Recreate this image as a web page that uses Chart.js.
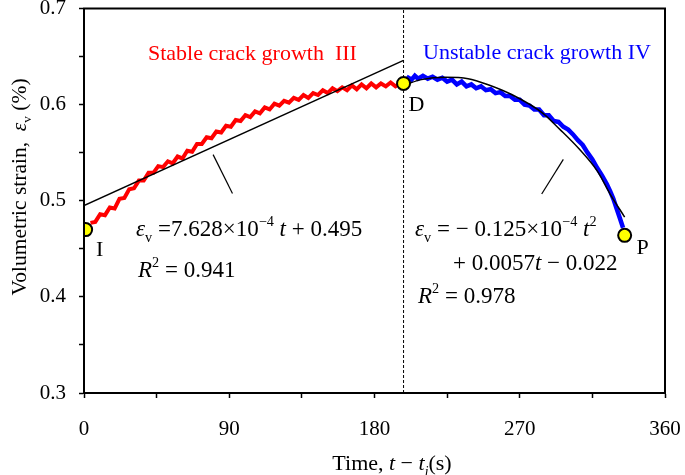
<!DOCTYPE html>
<html>
<head>
<meta charset="utf-8">
<script src="https://cdn.jsdelivr.net/npm/chart.js@4.4.1/dist/chart.umd.min.js"></script>
<style>
  html, body { margin: 0; padding: 0; background: #fff; }
  #wrap { width: 685px; height: 475px; }
</style>
</head>
<body>
<div id="wrap"><canvas id="chart" width="685" height="475"></canvas></div>
<script>
// Datos
const stableT = [4, 7, 10, 13, 16, 19, 22, 25, 28, 31, 34, 37, 40, 43, 46, 49, 52, 55, 58, 61, 64, 67, 70, 73, 76, 79, 82, 85, 88, 91, 94, 97, 100, 103, 106, 109, 112, 115, 118, 121, 124, 127, 130, 133, 136, 139, 142, 145, 148, 151, 154, 157, 160, 163, 166, 169, 172, 175, 178, 181, 184, 187, 190, 193, 196];
const stableStrain = [0.477, 0.478, 0.486, 0.485, 0.493, 0.492, 0.502, 0.503, 0.512, 0.513, 0.521, 0.521, 0.529, 0.529, 0.536, 0.535, 0.541, 0.539, 0.546, 0.544, 0.552, 0.551, 0.559, 0.559, 0.566, 0.565, 0.572, 0.571, 0.578, 0.577, 0.584, 0.583, 0.589, 0.587, 0.593, 0.591, 0.597, 0.595, 0.601, 0.599, 0.604, 0.602, 0.607, 0.605, 0.610, 0.607, 0.612, 0.610, 0.615, 0.612, 0.617, 0.614, 0.618, 0.615, 0.620, 0.616, 0.621, 0.617, 0.622, 0.618, 0.622, 0.619, 0.623, 0.619, 0.622];

const unstableT = [199, 201, 203, 205, 207, 210, 213, 216, 219, 222, 225, 228, 231, 234, 237, 240, 243, 246, 249, 252, 255, 258, 261, 264, 267, 270, 273, 276, 279, 282, 285, 288, 291, 294, 297, 300, 303, 306, 309, 312, 315, 318, 321, 324, 326, 328, 330, 332, 334];
const unstableStrain = [0.623, 0.628, 0.626, 0.630, 0.627, 0.630, 0.627, 0.629, 0.626, 0.628, 0.624, 0.626, 0.621, 0.624, 0.619, 0.621, 0.617, 0.619, 0.615, 0.616, 0.612, 0.613, 0.609, 0.609, 0.605, 0.605, 0.600, 0.599, 0.595, 0.595, 0.589, 0.589, 0.583, 0.582, 0.577, 0.574, 0.569, 0.563, 0.558, 0.550, 0.543, 0.534, 0.526, 0.517, 0.510, 0.502, 0.492, 0.482, 0.472];

// Ajustes (recta y parabola)
const linFitT = [0, 198];
const linFitStrain = [0.495, 0.646];
const quadFitT = [198, 209, 224, 238, 250, 265, 284, 295, 307, 318, 326, 335];
const quadFitStrain = [0.620, 0.626, 0.6285, 0.627, 0.621, 0.6105, 0.5915, 0.574, 0.5535, 0.531, 0.507, 0.483];

// Puntos caracteristicos I, D, P
const keyLabels = ['I', 'D', 'P'];
const keyT = [1, 198, 335];
const keyStrain = [0.470, 0.622, 0.464];

const damageT = 198;
const xTicks = [0, 90, 180, 270, 360];
const yTicks = [0.3, 0.4, 0.5, 0.6, 0.7];

const serif = "'Liberation Serif', 'Times New Roman', serif";

function toPoints(xs, ys) {
    return xs.map((x, i) => ({ x: x, y: ys[i] }));
}

// Texto con cursivas, subindices y superindices
function drawRich(ctx, x, y, parts, size, color, align) {
    const measure = [];
    let total = 0;
    parts.forEach(p => {
        const s = p.sub || p.sup ? size * 0.62 : size;
        const font = (p.it ? 'italic ' : '') + s + 'px ' + serif;
        ctx.font = font;
        const w = ctx.measureText(p.t).width;
        measure.push({ font: font, w: w });
        total += w;
    });
    let cx = align === 'center' ? x - total / 2 : x;
    ctx.fillStyle = color;
    ctx.textBaseline = 'alphabetic';
    ctx.textAlign = 'left';
    parts.forEach((p, i) => {
        ctx.font = measure[i].font;
        let dy = 0;
        if (p.sub) dy = size * 0.25;
        if (p.sup) dy = -size * 0.42;
        ctx.fillText(p.t, cx, y + dy);
        cx += measure[i].w;
    });
}

// quitar el relleno automatico de las etiquetas
function noPad(scale) {
    scale.paddingTop = 0;
    scale.paddingBottom = 0;
    scale.paddingLeft = 0;
    scale.paddingRight = 0;
}

const annotations = {
    id: 'annotations',
    afterDatasetsDraw(chart) {
        const ctx = chart.ctx;
        const a = chart.chartArea;
        ctx.save();
        // marco completo
        ctx.strokeStyle = '#000';
        ctx.lineWidth = 2;
        ctx.strokeRect(a.left, a.top, a.right - a.left, a.bottom - a.top);

        const sz = 22;
        const eq = 23;
        drawRich(ctx, 148, 60, [{ t: 'Stable crack growth  III' }], sz, '#ff0000');
        drawRich(ctx, 423, 59, [{ t: 'Unstable crack growth IV' }], sz, '#0000ff');

        drawRich(ctx, 136, 236, [
            { t: 'ε', it: true }, { t: 'v', sub: true }, { t: ' =7.628×10' }, { t: '−4', sup: true },
            { t: ' ' }, { t: 't', it: true }, { t: ' + 0.495' }
        ], eq, '#000');
        drawRich(ctx, 138, 277, [{ t: 'R', it: true }, { t: '2', sup: true }, { t: ' = 0.941' }], eq, '#000');

        drawRich(ctx, 415, 236, [
            { t: 'ε', it: true }, { t: 'v', sub: true }, { t: ' = − 0.125×10' }, { t: '−4', sup: true },
            { t: ' ' }, { t: 't', it: true }, { t: '2', sup: true }
        ], eq, '#000');
        drawRich(ctx, 453, 270, [{ t: '+ 0.0057' }, { t: 't', it: true }, { t: ' − 0.022' }], eq, '#000');
        drawRich(ctx, 418, 303, [{ t: 'R', it: true }, { t: '2', sup: true }, { t: ' = 0.978' }], eq, '#000');

        // etiquetas de puntos
        const xs = chart.scales.x, ys = chart.scales.y;
        const offs = [[14, 26], [13, 28], [18, 19]];
        keyLabels.forEach((lab, i) => {
            drawRich(ctx, xs.getPixelForValue(keyT[i]) + offs[i][0], ys.getPixelForValue(keyStrain[i]) + offs[i][1],
                [{ t: lab }], sz, '#000', 'center');
        });

        // titulos de ejes
        drawRich(ctx, 392, 470, [
            { t: 'Time, ' }, { t: 't', it: true }, { t: ' − ' }, { t: 't', it: true }, { t: 'i', it: true, sub: true }, { t: '(s)' }
        ], 22, '#000', 'center');
        ctx.save();
        ctx.translate(26, 187);
        ctx.rotate(-Math.PI / 2);
        drawRich(ctx, 0, 0, [
            { t: 'Volumetric strain,  ' }, { t: 'ε', it: true }, { t: 'v', sub: true }, { t: ' (%)' }
        ], 21.5, '#000', 'center');
        ctx.restore();
        ctx.restore();
    }
};

const ctx = document.getElementById('chart').getContext('2d');
new Chart(ctx, {
    type: 'scatter',
    data: {
        datasets: [
            {
                label: 'Puntos',
                data: toPoints(keyT, keyStrain),
                pointRadius: 6.5,
                pointBackgroundColor: '#ffff00',
                pointBorderColor: '#000',
                pointBorderWidth: 2,
                showLine: false
            },
            {
                label: 'Ajuste lineal',
                data: toPoints(linFitT, linFitStrain),
                showLine: true,
                borderColor: '#000',
                borderWidth: 1.5,
                pointRadius: 0
            },
            {
                label: 'Ajuste cuadratico',
                data: toPoints(quadFitT, quadFitStrain),
                showLine: true,
                borderColor: '#000',
                borderWidth: 1.5,
                pointRadius: 0,
                cubicInterpolationMode: 'monotone'
            },
            {
                label: 'Guia izquierda',
                data: [{ x: 80, y: 0.548 }, { x: 92, y: 0.5075 }],
                showLine: true,
                borderColor: '#000',
                borderWidth: 1.2,
                pointRadius: 0
            },
            {
                label: 'Guia derecha',
                data: [{ x: 297, y: 0.543 }, { x: 283.6, y: 0.507 }],
                showLine: true,
                borderColor: '#000',
                borderWidth: 1.2,
                pointRadius: 0
            },
            {
                label: 'Crecimiento estable',
                data: toPoints(stableT, stableStrain),
                showLine: true,
                borderColor: '#ff0000',
                borderWidth: 4,
                pointRadius: 0
            },
            {
                label: 'Crecimiento inestable',
                data: toPoints(unstableT, unstableStrain),
                showLine: true,
                borderColor: '#0000ff',
                borderWidth: 4.5,
                pointRadius: 0
            },
            {
                label: 'Dano',
                data: [{ x: damageT, y: 0.3 }, { x: damageT, y: 0.7 }],
                showLine: true,
                borderColor: '#000',
                borderWidth: 1,
                borderDash: [3, 2],
                pointRadius: 0
            }
        ]
    },
    options: {
        responsive: false,
        animation: false,
        layout: { padding: { left: 0, right: 20, top: 7, bottom: 0 } },
        plugins: { legend: { display: false }, tooltip: { enabled: false } },
        scales: {
            x: {
                type: 'linear',
                min: 0,
                max: 360,
                afterBuildTicks(scale) {
                    scale.ticks = [0, 45, 90, 135, 180, 225, 270, 315, 360].map(v => ({ value: v }));
                },
                afterFit(scale) { scale.height = 82; noPad(scale); },
                ticks: {
                    font: { family: serif, size: 21 },
                    color: '#000',
                    padding: 19,
                    maxRotation: 0,
                    autoSkip: false,
                    callback: v => xTicks.includes(v) ? String(v) : ''
                },
                grid: { drawOnChartArea: false, tickLength: 5, tickWidth: 1.5, tickColor: '#000' },
                border: { display: true, color: '#000', width: 2 }
            },
            y: {
                min: 0.3,
                max: 0.7,
                afterBuildTicks(scale) {
                    scale.ticks = [0.3, 0.35, 0.4, 0.45, 0.5, 0.55, 0.6, 0.65, 0.7].map(v => ({ value: v }));
                },
                afterFit(scale) { scale.width = 84; noPad(scale); },
                ticks: {
                    font: { family: serif, size: 21 },
                    color: '#000',
                    padding: 13,
                    autoSkip: false,
                    callback: v => {
                        const hit = yTicks.find(t => Math.abs(t - v) < 1e-6);
                        return hit !== undefined ? hit.toFixed(1) : '';
                    }
                },
                grid: { drawOnChartArea: false, tickLength: 5, tickWidth: 1.5, tickColor: '#000' },
                border: { display: true, color: '#000', width: 2 }
            }
        }
    },
    plugins: [annotations]
});
</script>
</body>
</html>
